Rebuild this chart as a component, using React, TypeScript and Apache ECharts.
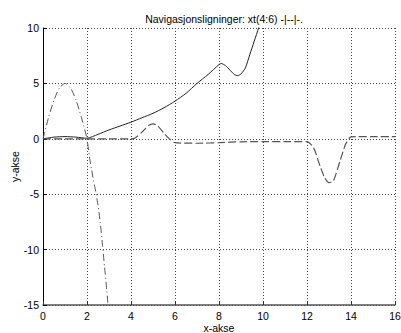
import React, { useEffect, useRef } from 'react';
import * as echarts from 'echarts';

const titleText = 'Navigasjonsligninger: xt(4:6) -|--|-.';
const xName = 'x-akse';
const yName = 'y-akse';

// solid line '-'
const solidX = [0, 0.5, 1, 1.5, 2, 2.5, 3, 3.5, 4, 4.5, 5, 5.5, 6, 6.5, 7, 7.5, 8, 8.1, 8.3, 8.5, 8.7, 8.85, 9.0, 9.2, 9.4, 9.6, 9.8, 10];
const solidY = [0, 0.15, 0.2, 0.15, 0.05, 0.4, 0.8, 1.15, 1.5, 1.9, 2.3, 2.8, 3.4, 4.1, 5.0, 5.8, 6.7, 6.8, 6.6, 6.2, 5.8, 5.7, 5.85, 6.4, 7.6, 8.8, 10.0, 11.2];

// dashed line '--'
const dashX = [0, 1, 2, 3, 4, 4.2, 4.5, 4.8, 5.0, 5.2, 5.5, 5.8, 6.0, 7, 8, 9, 10, 11, 12, 12.3, 12.6, 12.8, 13.0, 13.2, 13.5, 13.75, 13.9, 14, 15, 16];
const dashY = [0, 0, 0, 0, 0, 0.1, 0.6, 1.2, 1.35, 1.2, 0.5, -0.1, -0.35, -0.4, -0.35, -0.27, -0.25, -0.25, -0.25, -0.8, -2.5, -3.5, -3.95, -3.8, -2.0, -0.5, 0, 0.18, 0.2, 0.2];

// dash-dot line '-.'
const dotX = [0, 0.25, 0.5, 0.75, 1, 1.25, 1.5, 1.75, 2, 2.1, 2.2, 2.3, 2.4, 2.5, 2.6, 2.7, 2.8, 2.9, 3.0];
const dotY = [0, 1.9, 3.5, 4.6, 5.0, 4.6, 3.5, 1.9, 0, -1.5, -2.7, -3.8, -4.8, -6.0, -7.5, -9.5, -11.6, -13.7, -16];

const pairs = (xs: number[], ys: number[]) => xs.map((x, i) => [x, ys[i]]);

const FONT = '"Liberation Sans", Arial, sans-serif';

export default function App() {
  const ref = useRef<HTMLDivElement>(null);
  useEffect(() => {
    if (!ref.current) return;
    const chart = echarts.init(ref.current, undefined, { renderer: 'svg' });
    const gridLine = { show: true, lineStyle: { color: '#444', type: [1, 2], width: 1 } };
    chart.setOption({
      animation: false,
      backgroundColor: '#fff',
      title: {
        text: titleText,
        left: 219,
        textAlign: 'center',
        top: 8,
        textStyle: { fontFamily: FONT, fontSize: 10.5, fontWeight: 'normal', color: '#000' },
      },
      grid: { left: 43, right: 6, top: 28, bottom: 28, containLabel: false, outerBoundsMode: 'none' },
      xAxis: {
        type: 'value',
        min: 0,
        max: 16,
        interval: 2,
        name: xName,
        nameLocation: 'middle',
        nameGap: 17,
        nameMoveOverlap: false,
        nameTextStyle: { fontFamily: FONT, fontSize: 10.5, color: '#000', verticalAlign: 'top' },
        axisLine: { show: true, onZero: false, lineStyle: { color: '#555', width: 1.5 } },
        axisTick: { show: true, inside: true, length: 4, lineStyle: { color: '#333' } },
        axisLabel: { margin: 5, fontFamily: FONT, fontSize: 10.5, color: '#000' },
        splitLine: gridLine,
      },
      yAxis: {
        type: 'value',
        min: -15,
        max: 10,
        interval: 5,
        name: yName,
        nameLocation: 'middle',
        nameRotate: 90,
        nameGap: 23,
        nameMoveOverlap: false,
        nameTextStyle: { fontFamily: FONT, fontSize: 10.5, color: '#000' },
        axisLine: { show: true, onZero: false, lineStyle: { color: '#000', width: 1 } },
        axisTick: { show: true, inside: true, length: 4, lineStyle: { color: '#000' } },
        axisLabel: { margin: 4, fontFamily: FONT, fontSize: 10.5, color: '#000' },
        splitLine: gridLine,
      },
      series: [
        {
          type: 'line',
          data: pairs(solidX, solidY),
          showSymbol: false,
          smooth: 0.2,
          lineStyle: { color: '#222', width: 1, type: 'solid' },
        },
        {
          type: 'line',
          data: pairs(dashX, dashY),
          showSymbol: false,
          smooth: 0.2,
          lineStyle: { color: '#555', width: 1.2, type: [8, 3] },
        },
        {
          type: 'line',
          data: pairs(dotX, dotY),
          showSymbol: false,
          smooth: 0.2,
          lineStyle: { color: '#555', width: 1, type: [7, 3, 1, 3] },
        },
      ],
    });
    return () => chart.dispose();
  }, []);
  return <div ref={ref} style={{ width: 401, height: 333, position: 'absolute', left: 0, top: 0 }} />;
}
